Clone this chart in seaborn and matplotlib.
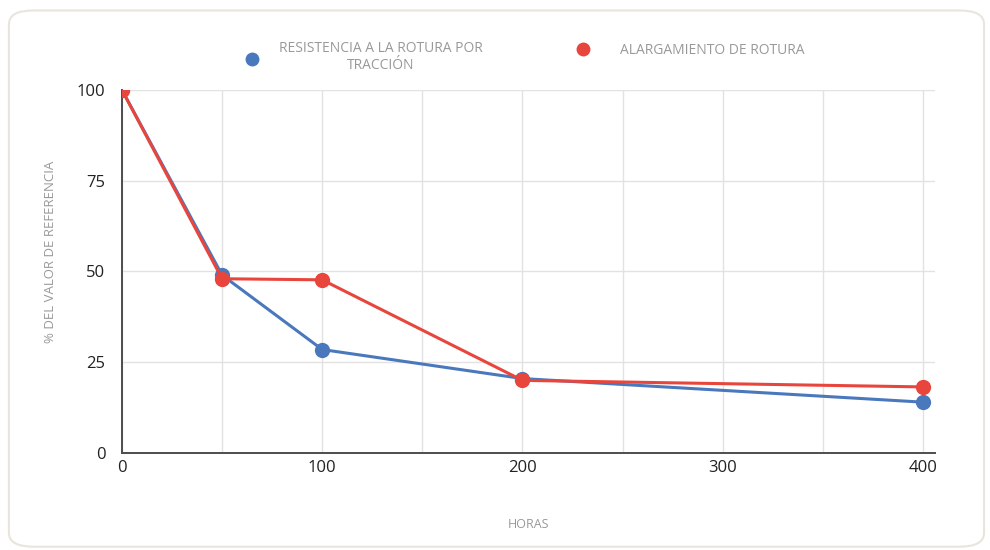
import numpy as np
import pandas as pd
import matplotlib
matplotlib.use("Agg")
import matplotlib.pyplot as plt
import seaborn as sns
from matplotlib.patches import FancyBboxPatch
from matplotlib.lines import Line2D

# Datos
horas = [0, 50, 100, 200, 400]
resistencia = [100, 49, 28.5, 20.5, 14]
alargamiento = [100, 48, 47.7, 20, 18.2]
series = ["RESISTENCIA A LA ROTURA POR\nTRACCIÓN", "ALARGAMIENTO DE ROTURA"]
colores = ["#4a78bd", "#e8463d"]
yticks = [0, 25, 50, 75, 100]
xticks = [0, 100, 200, 300, 400]

df = pd.concat([
    pd.DataFrame({"horas": horas, "valor": resistencia, "serie": series[0]}),
    pd.DataFrame({"horas": horas, "valor": alargamiento, "serie": series[1]}),
])

sns.set_style("white")
plt.rcParams["font.family"] = ["Open Sans", "DejaVu Sans"]

fig = plt.figure(figsize=(9.9, 5.5), dpi=100)
fig.patch.set_facecolor("white")

# Marco de tarjeta redondeado
card = FancyBboxPatch((0.009, 0.006), 0.985, 0.975, boxstyle="round,pad=0,rounding_size=0.025",
                      transform=fig.transFigure, facecolor="white", edgecolor="#e9e5dc",
                      linewidth=1.5, zorder=0)
fig.add_artist(card)

ax = fig.add_axes([0.1232, 0.1764, 0.8212, 0.66])
ax.set_facecolor("none")

sns.lineplot(data=df, x="horas", y="valor", hue="serie", palette=colores,
             marker="o", markersize=11, markeredgewidth=0, linewidth=2.2,
             legend=False, ax=ax, zorder=3)

ax.set_xlim(0, 406)
ax.set_ylim(0, 100)
ax.set_xticks(xticks)
ax.set_yticks(yticks)
ax.set_xticks(np.arange(0, 401, 50), minor=True)
ax.grid(True, which="both", color="#e2e2e2", linewidth=1.0)
ax.set_axisbelow(True)
ax.tick_params(which="both", length=0, labelsize=12, colors="#222222", pad=5)
ax.tick_params(axis="y", pad=12)
for s in ["top", "right"]:
    ax.spines[s].set_visible(False)
for s in ["left", "bottom"]:
    ax.spines[s].set_color("#4d4d4d")
    ax.spines[s].set_linewidth(1.4)

ax.set_xlabel("HORAS", fontsize=9, color="#999999", labelpad=30)
ax.set_ylabel("% DEL VALOR DE REFERENCIA", fontsize=9.5, color="#999999")
ax.yaxis.set_label_coords(-0.08, 0.553)

# Leyenda manual en la parte superior
fig.add_artist(Line2D([252 / 990], [1 - 59 / 550], marker="o", color=colores[0],
                      markersize=10, markeredgewidth=0, transform=fig.transFigure))
fig.text(381 / 990, 1 - 57 / 550, series[0], ha="center", va="center",
         fontsize=10, color="#999999", linespacing=1.25)
fig.add_artist(Line2D([583 / 990], [1 - 49 / 550], marker="o", color=colores[1],
                      markersize=10, markeredgewidth=0, transform=fig.transFigure))
fig.text(620 / 990, 1 - 50 / 550, series[1], ha="left", va="center",
         fontsize=10, color="#999999")

plt.savefig("out.png", dpi=100)
